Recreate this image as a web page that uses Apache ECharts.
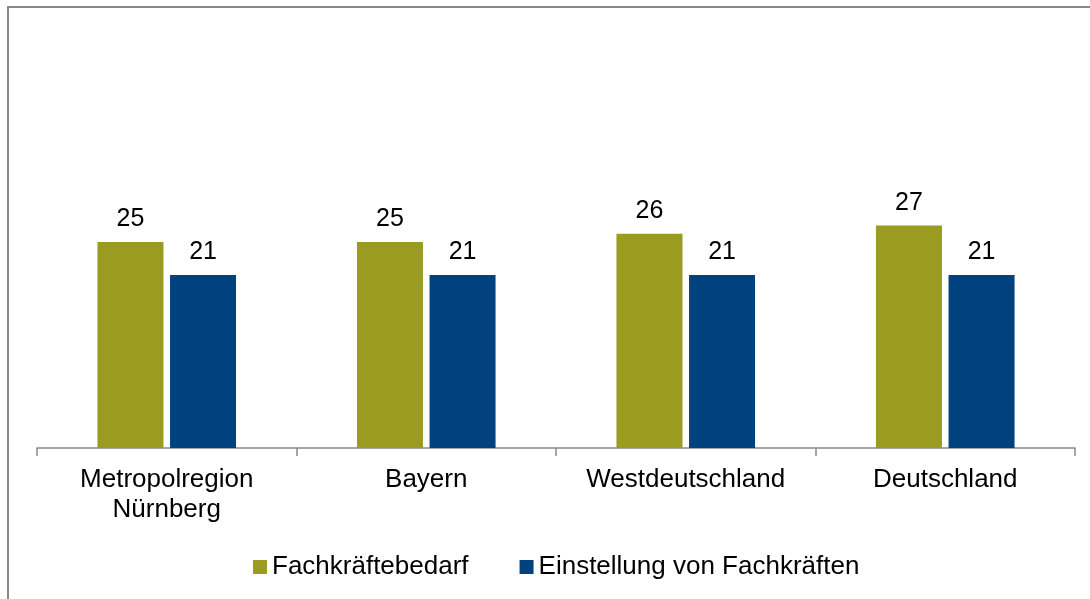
<!DOCTYPE html>
<html>
<head>
<meta charset="utf-8">
<script src="https://cdn.jsdelivr.net/npm/echarts@6/dist/echarts.min.js"></script>
<style>
  html, body { margin: 0; padding: 0; background: #fff; }
  #main { width: 1090px; height: 599px; }
</style>
</head>
<body>
<div id="main"></div>
<script>
// regions on the x axis
var categories = ['Metropolregion\nNürnberg', 'Bayern', 'Westdeutschland', 'Deutschland'];
var seriesNames = ['Fachkräftebedarf', 'Einstellung von Fachkräften'];
var bedarf = [25, 25, 26, 27];
var einstellung = [21, 21, 21, 21];

var fontFam = '"Liberation Sans", Arial, sans-serif';
var colors = ['#9A9B21', '#00417E'];

var myChart = echarts.init(document.getElementById('main'));

var option = {
    animation: false,
    color: colors,
    textStyle: { fontFamily: fontFam },
    graphic: [{
        type: 'rect',
        shape: { x: 8, y: 7, width: 1200, height: 700 },
        style: { fill: 'none', stroke: '#898989', lineWidth: 2 },
        silent: true
    }],
    grid: {
        left: 37,
        right: 15,
        top: 200.8,
        bottom: 151
    },
    legend: {
        left: 248,
        top: 549,
        itemWidth: 14,
        itemHeight: 14,
        itemGap: 51,
        icon: 'rect',
        textStyle: { fontSize: 26, color: '#000', fontFamily: fontFam },
        data: seriesNames
    },
    xAxis: {
        type: 'category',
        data: categories,
        axisLine: { lineStyle: { color: '#898989', width: 1.5 } },
        axisTick: { show: true, length: 8, lineStyle: { color: '#898989', width: 1.5 } },
        axisLabel: {
            fontSize: 26,
            lineHeight: 30,
            color: '#000',
            margin: 17,
            fontFamily: fontFam,
            interval: 0
        }
    },
    yAxis: {
        type: 'value',
        min: 0,
        max: 30,
        show: false,
        splitLine: { show: false }
    },
    series: [{
        name: seriesNames[0],
        type: 'bar',
        data: bedarf,
        barWidth: 66,
        barGap: '10%',
        label: {
            show: true,
            position: 'top',
            distance: 10,
            fontSize: 25,
            color: '#000',
            fontFamily: fontFam
        }
    }, {
        name: seriesNames[1],
        type: 'bar',
        data: einstellung,
        barWidth: 66,
        barGap: '10%',
        label: {
            show: true,
            position: 'top',
            distance: 10,
            fontSize: 25,
            color: '#000',
            fontFamily: fontFam
        }
    }]
};

myChart.setOption(option);
</script>
</body>
</html>
